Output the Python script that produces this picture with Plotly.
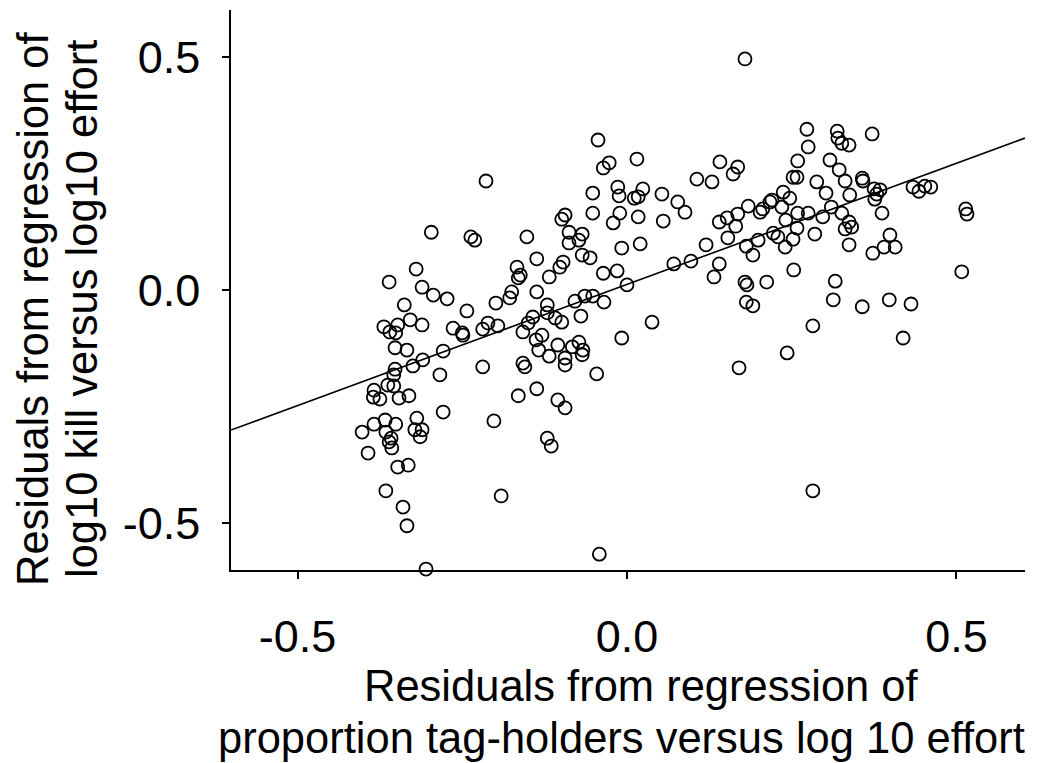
import plotly.graph_objects as go

# Residuals of proportion tag-holders vs log10 effort (x) and of log10 kill vs log10 effort (y)
resid_tag = [
    -0.361, -0.369, -0.360, -0.348, -0.351, -0.352, -0.352, -0.354, -0.363, -0.354,
    -0.384, -0.385, -0.375, -0.346, -0.402, -0.384, -0.367, -0.351, -0.366, -0.358,
    -0.361, -0.357, -0.393, -0.348, -0.366, -0.340, -0.338, -0.329, -0.311, -0.334,
    -0.325, -0.310, -0.331, -0.284, -0.279, -0.279, -0.319, -0.322, -0.311, -0.314,
    -0.332, -0.334, -0.305, -0.320, -0.297, -0.311, -0.294, -0.273, -0.243, -0.264,
    -0.250, -0.249, -0.219, -0.211, -0.196, -0.219, -0.202, -0.191, -0.214, -0.237,
    -0.231, -0.152, -0.199, -0.175, -0.178, -0.137, -0.137, -0.167, -0.162, -0.165,
    -0.118, -0.102, -0.097, -0.121, -0.121, -0.109, -0.143, -0.150, -0.158, -0.129,
    -0.138, -0.134, -0.118, -0.105, -0.158, -0.155, -0.165, -0.137, -0.105, -0.094,
    -0.121, -0.115, -0.099, -0.044, -0.036, -0.027, 0.015, 0.106, 0.129, 0.141,
    -0.052, -0.014, -0.012, 0.011, 0.017, 0.024, 0.053, 0.077, 0.088, 0.055,
    0.017, -0.011, -0.021, -0.052, -0.094, -0.099, -0.088, -0.068, -0.073, -0.088,
    -0.068, -0.056, -0.008, 0.020, -0.036, -0.015, 0.000, 0.071, 0.097, 0.120,
    0.140, 0.140, 0.132, -0.079, -0.064, -0.052, -0.035, -0.070, 0.038, -0.008,
    -0.083, -0.073, -0.067, -0.068, -0.094, -0.094, -0.046, -0.042, 0.179, 0.273,
    0.319, 0.320, 0.326, 0.337, 0.372, 0.275, 0.259, 0.308, 0.322, 0.168,
    0.161, 0.252, 0.258, 0.288, 0.331, 0.357, 0.358, 0.302, 0.375, 0.376,
    0.338, 0.152, 0.168, 0.184, 0.202, 0.206, 0.217, 0.220, 0.237, 0.247,
    0.235, 0.259, 0.275, 0.297, 0.310, 0.326, 0.337, 0.341, 0.331, 0.241,
    0.258, 0.165, 0.153, 0.222, 0.229, 0.199, 0.181, 0.191, 0.240, 0.252,
    0.285, 0.337, 0.373, 0.253, 0.179, 0.182, 0.212, 0.316, 0.181, 0.191,
    0.313, 0.357, 0.282, 0.243, 0.170, 0.282, 0.384, 0.379, 0.387, 0.434,
    0.443, 0.452, 0.461, 0.514, 0.516, 0.399, 0.390, 0.407, 0.508, 0.398,
    0.431, 0.419,
]
resid_kill = [
    0.017, -0.079, -0.090, -0.075, -0.092, -0.124, -0.170, -0.182, -0.204, -0.206,
    -0.215, -0.230, -0.234, -0.232, -0.305, -0.288, -0.279, -0.288, -0.305, -0.318,
    -0.326, -0.339, -0.350, -0.380, -0.431, -0.466, -0.032, -0.064, -0.075, -0.129,
    -0.163, -0.150, -0.227, -0.182, -0.131, -0.262, -0.275, -0.300, -0.300, -0.315,
    -0.376, -0.506, -0.599, 0.045, 0.124, 0.006, -0.011, -0.019, -0.045, -0.082,
    -0.092, -0.097, -0.084, -0.071, -0.077, -0.165, -0.281, -0.442, 0.234, 0.114,
    0.107, 0.114, -0.028, -0.004, -0.017, -0.004, 0.067, 0.049, 0.032, 0.026,
    0.028, 0.049, 0.060, -0.032, -0.049, -0.060, -0.058, -0.071, -0.090, -0.097,
    -0.107, -0.129, -0.142, -0.118, -0.157, -0.165, -0.227, -0.212, -0.236, -0.253,
    -0.318, -0.335, -0.069, 0.322, 0.262, 0.273, 0.281, 0.238, 0.232, 0.275,
    0.208, 0.221, 0.202, 0.197, 0.200, 0.217, 0.206, 0.189, 0.167, 0.148,
    0.157, 0.165, 0.144, 0.165, 0.161, 0.152, 0.124, 0.120, 0.107, 0.101,
    0.075, 0.069, 0.090, 0.099, 0.036, 0.041, 0.011, 0.056, 0.062, 0.097,
    0.146, 0.056, 0.028, -0.024, -0.013, -0.013, -0.026, -0.056, -0.069, -0.103,
    -0.122, -0.112, -0.129, -0.139, -0.146, -0.161, -0.180, -0.567, 0.496, 0.345,
    0.341, 0.326, 0.315, 0.311, 0.335, 0.307, 0.277, 0.279, 0.258, 0.264,
    0.249, 0.242, 0.242, 0.232, 0.234, 0.240, 0.234, 0.208, 0.217, 0.195,
    0.204, 0.155, 0.163, 0.180, 0.167, 0.174, 0.189, 0.193, 0.210, 0.197,
    0.178, 0.165, 0.165, 0.157, 0.178, 0.165, 0.146, 0.135, 0.131, 0.150,
    0.133, 0.137, 0.112, 0.122, 0.114, 0.107, 0.094, 0.075, 0.092, 0.109,
    0.120, 0.097, 0.079, 0.043, 0.017, 0.011, 0.017, 0.019, -0.026, -0.034,
    -0.021, -0.036, -0.077, -0.135, -0.167, -0.431, 0.215, 0.206, 0.165, 0.221,
    0.212, 0.223, 0.221, 0.174, 0.163, 0.118, 0.092, 0.092, 0.039, -0.021,
    -0.030, -0.103,
]

# Fitted regression line: kill residual = intercept + slope * tag residual
fit_intercept = 0.012
fit_slope = 0.52

x_range = [-0.601, 0.604]
y_range = [-0.601, 0.601]
tick_vals = [-0.5, 0.0, 0.5]
tick_text = ["-0.5", "0.0", "0.5"]

x_title_lines = ["Residuals from regression of",
                 "proportion tag-holders versus log 10 effort"]
y_title_lines = ["Residuals from regression of",
                 "log10 kill versus log10 effort"]

FONT = "Liberation Sans, Arial, Helvetica, sans-serif"
TITLE_SIZE = 43.5

fig = go.Figure()

fig.add_trace(go.Scatter(
    x=resid_tag, y=resid_kill, mode="markers",
    marker=dict(symbol="circle-open", size=13, color="black",
                line=dict(color="black", width=1.8)),
    showlegend=False, hoverinfo="skip", cliponaxis=False,
))

fig.add_trace(go.Scatter(
    x=x_range,
    y=[fit_intercept + fit_slope * v for v in x_range],
    mode="lines", line=dict(color="black", width=1.6),
    showlegend=False, hoverinfo="skip",
))

axis_common = dict(
    showgrid=False, zeroline=False, showline=True, linecolor="black",
    linewidth=1.6, ticks="outside", ticklen=7, tickwidth=1.6,
    tickcolor="black", tickvals=tick_vals, ticktext=tick_text,
    tickfont=dict(family=FONT, size=45, color="black"),
)

fig.update_layout(
    width=1045, height=763,
    margin=dict(l=231, r=20, t=10, b=193),
    paper_bgcolor="white", plot_bgcolor="white",
    xaxis=dict(range=x_range, ticklabelstandoff=19, **axis_common),
    yaxis=dict(range=y_range, ticklabelstandoff=13, **axis_common),
    font=dict(family=FONT, color="black"),
)

# Two-line axis titles, each line placed on its own
for line, xpx, ypx in zip(x_title_lines, [641, 621], [686, 738]):
    fig.add_annotation(
        text=line, xref="paper", yref="paper",
        x=(xpx - 231) / 794, y=(570 - ypx) / 560,
        xanchor="center", yanchor="middle",
        showarrow=False, font=dict(family=FONT, size=TITLE_SIZE, color="black"),
    )
for line, xpx in zip(y_title_lines, [33, 82]):
    fig.add_annotation(
        text=line, xref="paper", yref="paper",
        x=(xpx - 231) / 794, y=(570 - 309) / 560,
        xanchor="center", yanchor="middle", textangle=-90,
        showarrow=False, font=dict(family=FONT, size=TITLE_SIZE, color="black"),
    )

fig.write_html("out.html")
